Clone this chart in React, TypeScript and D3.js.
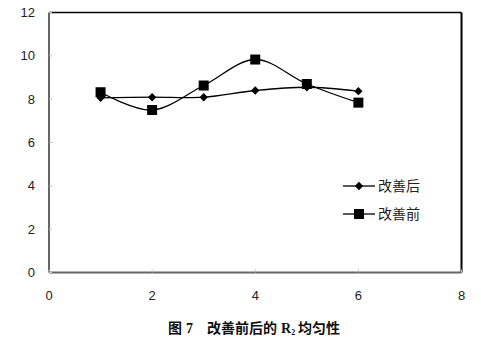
import React from "react";
import * as d3 from "d3";

const xValues = [1, 2, 3, 4, 5, 6];
const afterValues = [8.06, 8.09, 8.09, 8.4, 8.55, 8.37];
const beforeValues = [8.32, 7.5, 8.63, 9.83, 8.7, 7.84];
const xTicks = [0, 2, 4, 6, 8];
const yTicks = [0, 2, 4, 6, 8, 10, 12];
const seriesNames = ["改善后", "改善前"];
const captionFig = "图";
const captionNum = "7";
const captionMain = "改善前后的";
const captionR = "R";
const captionSub = "2";
const captionTail = "均匀性";

export default function App() {
  const W = 481, H = 347;
  const x = d3.scaleLinear().domain([0, 8]).range([49, 461.5]);
  const y = d3.scaleLinear().domain([0, 12]).range([272.5, 12.5]);
  const line = d3
    .line<number>()
    .x((_, i) => x(xValues[i]))
    .y((d) => y(d))
    .curve(d3.curveCardinal.tension(0));
  const font = "'Liberation Sans', 'DejaVu Sans', sans-serif";
  const cjk = "'Noto Sans CJK SC', sans-serif";
  const serif = "'Liberation Serif', serif";
  const diamond = (cx: number, cy: number, r = 4.2) =>
    `M${cx},${cy - r}L${cx + r},${cy}L${cx},${cy + r}L${cx - r},${cy}Z`;
  return (
    <svg width={W} height={H} style={{ position: "absolute", left: 0, top: 0, background: "#fff" }}>
      <rect x={0} y={0} width={W} height={H} fill="#fff" />
      {/* frame */}
      <line x1={x(0)} x2={x(8)} y1={y(12)} y2={y(12)} stroke="#000" strokeWidth={1.5} />
      <line x1={x(8)} x2={x(8)} y1={y(12)} y2={y(0)} stroke="#000" strokeWidth={2} />
      <line x1={x(0)} x2={x(0)} y1={y(12)} y2={y(0)} stroke="#666" strokeWidth={2} />
      <line x1={x(0)} x2={x(8)} y1={y(0)} y2={y(0)} stroke="#666" strokeWidth={2} />
      {/* ticks */}
      {yTicks.map((t) => (
        <g key={"y" + t}>
          <line x1={x(0)} x2={x(0) + 3} y1={y(t)} y2={y(t)} stroke="#bbb" strokeWidth={1} />
          <text x={35} y={y(t)} dy="0.35em" textAnchor="end" fontFamily={font} fontSize={13} fill="#222">
            {t}
          </text>
        </g>
      ))}
      {xTicks.map((t) => (
        <g key={"x" + t}>
          <line x1={x(t)} x2={x(t)} y1={y(0)} y2={y(0) - 3} stroke="#bbb" strokeWidth={1} />
          <text x={x(t)} y={295} dy="0.35em" textAnchor="middle" fontFamily={font} fontSize={13} fill="#222">
            {t}
          </text>
        </g>
      ))}
      {/* series */}
      <path d={line(afterValues) || ""} fill="none" stroke="#000" strokeWidth={1.3} />
      <path d={line(beforeValues) || ""} fill="none" stroke="#000" strokeWidth={1.3} />
      {afterValues.map((v, i) => (
        <path key={"a" + i} d={diamond(x(xValues[i]), y(v))} fill="#000" />
      ))}
      {beforeValues.map((v, i) => (
        <rect key={"b" + i} x={x(xValues[i]) - 5} y={y(v) - 5} width={10} height={10} fill="#000" />
      ))}
      {/* legend */}
      <g>
        <line x1={343} x2={375} y1={186} y2={186} stroke="#000" strokeWidth={1.3} />
        <path d={diamond(359, 186)} fill="#000" />
        <text x={378} y={186} dy="0.35em" fontFamily={cjk} fontSize={14} fill="#222">
          {seriesNames[0]}
        </text>
        <line x1={343} x2={375} y1={214} y2={214} stroke="#000" strokeWidth={1.3} />
        <rect x={354} y={209} width={10} height={10} fill="#000" />
        <text x={378} y={214} dy="0.35em" fontFamily={cjk} fontSize={14} fill="#222">
          {seriesNames[1]}
        </text>
      </g>
      {/* caption */}
      <text y={333} fontFamily={cjk} fontWeight="bold" fontSize={14} fill="#111">
        <tspan x={168}>{captionFig}</tspan>
        <tspan x={186} fontFamily={serif}>{captionNum}</tspan>
        <tspan x={207}>{captionMain}</tspan>
        <tspan x={281} fontFamily={serif} fontSize={14}>{captionR}</tspan>
        <tspan fontFamily={serif} fontSize={8} dy={1.5}>{captionSub}</tspan>
        <tspan x={298} dy={-1.5}>{captionTail}</tspan>
      </text>
    </svg>
  );
}
